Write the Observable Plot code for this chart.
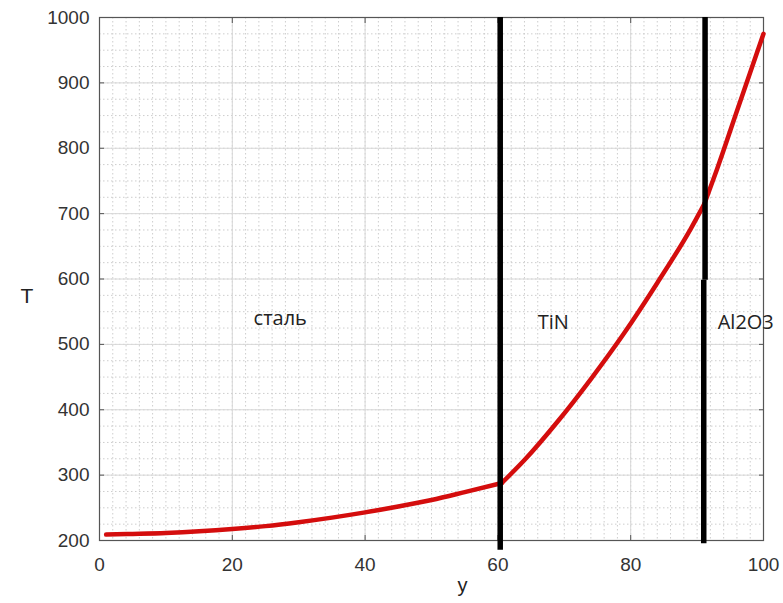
<!DOCTYPE html>
<html>
<head>
<meta charset="utf-8">
<script src="https://cdn.jsdelivr.net/npm/d3@7"></script>
<script src="https://cdn.jsdelivr.net/npm/@observablehq/plot@0.6"></script>
<style>
  html, body { margin: 0; padding: 0; background: #fff; }
  #chart svg { display: block; }
</style>
</head>
<body>
<div id="chart"></div>
<script>
// Temperature profile T(y) through steel / TiN / Al2O3 layers
const steelY = [1, 5, 10, 15, 20, 25, 30, 35, 40, 45, 50, 55, 60.6];
const steelT = [209, 210, 211.5, 214, 217.5, 222, 228, 235, 243, 252, 262, 274, 288];
const tinY   = [60.6, 64, 69, 74, 79, 84, 89, 91.1];
const tinT   = [288, 323, 382, 447, 517, 594, 676, 715];
const aloY   = [91.1, 93, 96, 100];
const aloT   = [715, 768, 857, 975];

// layer boundaries (x position, vertical extent)
const boundaryX  = [60.35, 91.2, 91.0];
const boundaryT1 = [185, 598, 195];
const boundaryT2 = [1000, 1000, 598];

// region labels
const regionNames = ["сталь", "TiN", "Al2O3"];
const regionX = [23.2, 66.0, 93.1];
const regionT = [539, 533, 533];

const xTicks = [0, 20, 40, 60, 80, 100];
const yTicks = [200, 300, 400, 500, 600, 700, 800, 900, 1000];
const xMinor = d3.range(0, 101, 2);
const yMinor = d3.range(200, 1001, 25);

const curve = [
  ...steelY.map((y, i) => ({layer: "steel", y, T: steelT[i]})),
  ...tinY.map((y, i) => ({layer: "tin", y, T: tinT[i]})),
  ...aloY.map((y, i) => ({layer: "alo", y, T: aloT[i]}))
];
const boundaries = boundaryX.map((x, i) => ({x, t1: boundaryT1[i], t2: boundaryT2[i]}));
const regions = regionNames.map((name, i) => ({name, x: regionX[i], T: regionT[i]}));

const tickFont = "'Liberation Sans', Arial, sans-serif";

const chart = Plot.plot({
  width: 783,
  height: 603,
  marginLeft: 99,
  marginRight: 20,
  marginTop: 17,
  marginBottom: 63,
  style: {background: "#fff", fontFamily: tickFont},
  x: {domain: [0, 100]},
  y: {domain: [200, 1000]},
  marks: [
    Plot.gridX(xMinor, {stroke: "#cdcdcd", strokeOpacity: 1, strokeDasharray: "1.5,2.5"}),
    Plot.gridY(yMinor, {stroke: "#cdcdcd", strokeOpacity: 1, strokeDasharray: "1.5,2.5"}),
    Plot.gridX(xTicks, {stroke: "#d8d8d8", strokeOpacity: 1}),
    Plot.gridY(yTicks, {stroke: "#d8d8d8", strokeOpacity: 1}),
    Plot.axisX(xTicks, {anchor: "bottom", tickSize: 0, tickPadding: 17, fontSize: 19, fill: "#333", label: null, tickFormat: d => String(d)}),
    Plot.axisY(yTicks, {anchor: "left", tickSize: 0, tickPadding: 10, fontSize: 19, fill: "#333", label: null, tickFormat: d => String(d)}),
    Plot.axisX(xTicks, {anchor: "bottom", tickSize: -5, fill: "none", stroke: "#555", label: null}),
    Plot.axisX(xTicks, {anchor: "top", tickSize: -5, fill: "none", stroke: "#555", label: null}),
    Plot.axisY(yTicks, {anchor: "left", tickSize: -5, fill: "none", stroke: "#555", label: null}),
    Plot.axisY(yTicks, {anchor: "right", tickSize: -5, fill: "none", stroke: "#555", label: null}),
    Plot.frame({stroke: "#555", strokeWidth: 1.2}),
    Plot.line(curve, {x: "y", y: "T", z: "layer", curve: "monotone-x", stroke: "#d40d0d", strokeWidth: 4.5,
      strokeLinejoin: "round", strokeLinecap: "round"}),
    Plot.ruleX(boundaries, {x: "x", y1: "t1", y2: "t2", stroke: "#000", strokeWidth: 5.5, clip: false}),
    Plot.text(regions, {x: "x", y: "T", text: "name", textAnchor: "start", fontSize: 20, fill: "#222",
      fontFamily: "'Open Sans', sans-serif", clip: false}),
    Plot.text(["y"], {frameAnchor: "bottom", dx: 31, dy: 51, fontSize: 20, fill: "#222",
      fontFamily: tickFont}),
    Plot.text(["T"], {frameAnchor: "left", dx: -79, dy: 17, fontSize: 21, fill: "#222",
      fontFamily: tickFont})
  ]
});
document.getElementById("chart").appendChild(chart);
</script>
</body>
</html>
